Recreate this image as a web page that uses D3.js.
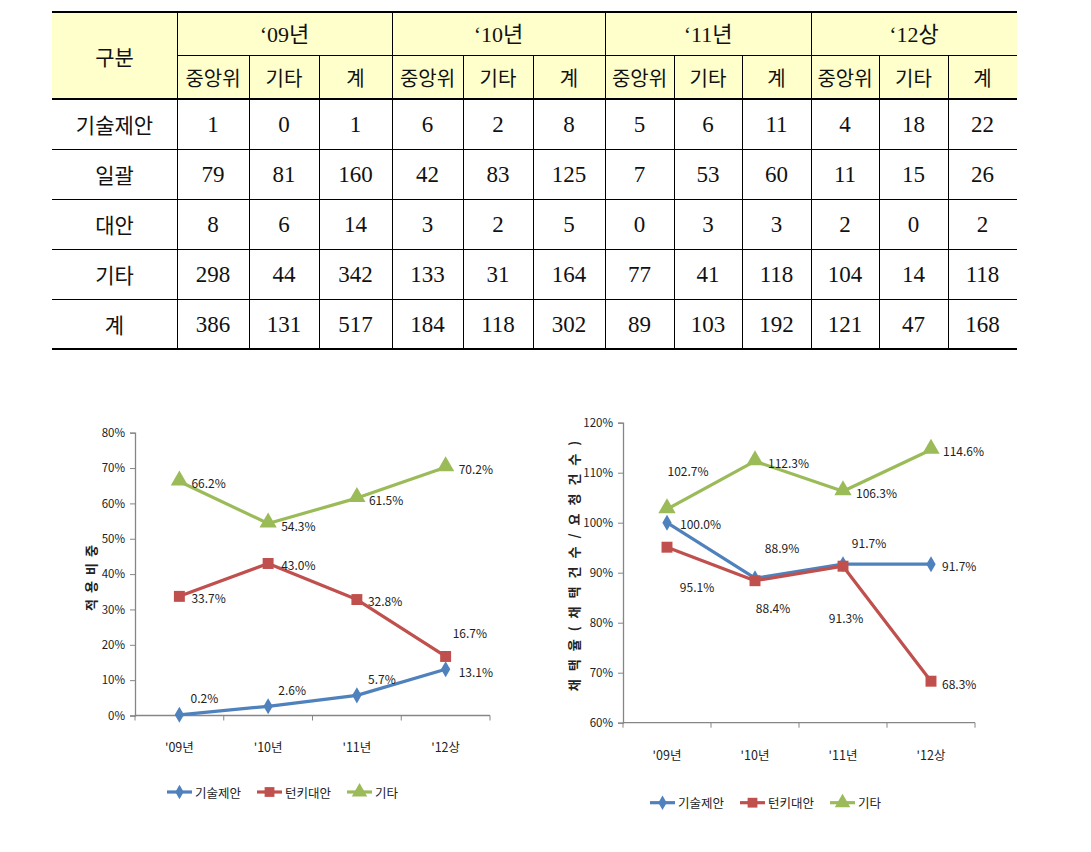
<!DOCTYPE html>
<html><head><meta charset="utf-8">
<script src="https://cdn.jsdelivr.net/npm/d3@7"></script>
<style>
body{margin:0;background:#fff;}
svg{display:block;}
</style></head>
<body>
<svg id="c" width="1091" height="852"></svg>
<script>
// ---------- DATA ----------
const tableYears = ["‘09년", "‘10년", "‘11년", "‘12상"];
const tableSubCols = ["중앙위", "기타", "계"];
const tableCorner = "구분";
const tableRowLabels = ["기술제안", "일괄", "대안", "기타", "계"];
const rowTech = [1, 0, 1, 6, 2, 8, 5, 6, 11, 4, 18, 22];
const rowBulk = [79, 81, 160, 42, 83, 125, 7, 53, 60, 11, 15, 26];
const rowAlt = [8, 6, 14, 3, 2, 5, 0, 3, 3, 2, 0, 2];
const rowEtc = [298, 44, 342, 133, 31, 164, 77, 41, 118, 104, 14, 118];
const rowSum = [386, 131, 517, 184, 118, 302, 89, 103, 192, 121, 47, 168];

const chartCategories = ["'09년", "'10년", "'11년", "'12상"];
const seriesNames = ["기술제안", "턴키대안", "기타"];

const shareTech = [0.2, 2.6, 5.7, 13.1];
const shareTurnkey = [33.7, 43.0, 32.8, 16.7];
const shareEtc = [66.2, 54.3, 61.5, 70.2];
const shareTicks = [0, 10, 20, 30, 40, 50, 60, 70, 80];
const shareTitle = "적용비중";

const rateTech = [100.0, 88.9, 91.7, 91.7];
const rateTurnkey = [95.1, 88.4, 91.3, 68.3];
const rateEtc = [102.7, 112.3, 106.3, 114.6];
const rateTicks = [60, 70, 80, 90, 100, 110, 120];
const rateTitle = "채택율(채택건수/요청건수)";

// ---------- LAYOUT / STYLE ----------
const colors = ["#4F81BD", "#C0504D", "#9BBB59"];
const symbols = [d3.symbolDiamond, d3.symbolSquare, d3.symbolTriangle];
const symSizes = [75, 120, 130];
const kFont = "'Noto Sans CJK KR', 'Noto Sans', sans-serif";
const tFont = "'Liberation Serif', 'Noto Sans CJK KR', serif";
const colWidths = [72, 70, 73, 71, 70, 72, 69, 68, 69, 68, 69, 69];

// label offsets: [dx, dy, anchor]
const shareLabelPos = [
  [[25,-17,"middle"],[24,-17,"middle"],[25,-17,"middle"],[13,2,"start"]],
  [[12,1,"start"],[13,1,"start"],[11,1,"start"],[7,-24,"start"]],
  [[12,1,"start"],[13,2,"start"],[12,1,"start"],[13,1,"start"]]
];
const rateLabelPos = [
  [[13,1,"start"],[27,-31,"middle"],[26,-22,"middle"],[11,1,"start"]],
  [[30,39,"middle"],[18,27,"middle"],[3,51,"middle"],[11,2,"start"]],
  [[21,-39,"middle"],[13,1,"start"],[13,1,"start"],[12,1,"start"]]
];

const svg = d3.select("#c");

// ---------- TABLE ----------
(function drawTable(){
  const rows = [rowTech, rowBulk, rowAlt, rowEtc, rowSum];
  const left = 52, firstW = 125, right = 1017;
  const top = 12, h1 = 43, h2 = 44, rowH = 50;
  const nCols = tableYears.length * tableSubCols.length;
  const edges = [left + firstW];
  colWidths.forEach((w, i) => edges.push(edges[i] + w));
  const xc = i => edges[i];
  const wc = i => edges[i + 1] - edges[i];
  const yr = d3.scaleBand().domain(d3.range(rows.length)).range([top + h1 + h2, top + h1 + h2 + rowH * rows.length]);
  const bottom = top + h1 + h2 + rowH * rows.length;
  const g = svg.append("g");

  g.append("rect").attr("x", left).attr("y", top).attr("width", right - left).attr("height", h1 + h2).attr("fill", "#FFFFCC");

  const line = (x1,y1,x2,y2,w) => g.append("line").attr("x1",x1).attr("y1",y1).attr("x2",x2).attr("y2",y2)
      .attr("stroke","#000").attr("stroke-width",w||1).attr("shape-rendering","crispEdges");
  line(left, top, right, top, 2);
  line(left + firstW, top + h1, right, top + h1);
  line(left, top + h1 + h2, right, top + h1 + h2, 1.5);
  yr.domain().forEach(i => { if (i > 0) line(left, yr(i), right, yr(i)); });
  line(left, bottom, right, bottom, 2);
  line(left + firstW, top, left + firstW, bottom);
  d3.range(nCols).forEach(i => {
    if (i === 0) return;
    const x = xc(i);
    const yStart = (i % 3 === 0) ? top : top + h1;
    line(x, yStart, x, bottom);
  });

  const txt = (x, y, s, size, fam) => g.append("text").attr("x", x).attr("y", y).attr("text-anchor","middle")
      .attr("dominant-baseline","central").attr("font-family", fam).attr("font-size", size).attr("fill","#111").text(s);

  txt(left + firstW/2, top + (h1+h2)/2, tableCorner, 21, kFont);
  tableYears.forEach((y, i) => txt((xc(i*3) + xc(i*3+3))/2, top + h1/2 + 1, y, 22, tFont));
  d3.range(nCols).forEach(i => txt(xc(i) + wc(i)/2, top + h1 + h2/2, tableSubCols[i % 3], 20, kFont));
  rows.forEach((r, ri) => {
    txt(left + firstW/2, yr(ri) + rowH/2, tableRowLabels[ri], 21, kFont);
    r.forEach((v, ci) => txt(xc(ci) + wc(ci)/2, yr(ri) + rowH/2, v, 23, tFont));
  });
})();

// ---------- CHARTS ----------
function drawChart(opt){
  const g = svg.append("g");
  const x = d3.scaleBand().domain(chartCategories).range([opt.x0, opt.x1]);
  const y = d3.scaleLinear().domain(opt.domain).range([opt.yBottom, opt.yTop]);
  const axisColor = "#868686";

  // y axis
  const ya = g.append("g").attr("transform", `translate(${opt.x0},0)`)
    .call(d3.axisLeft(y).tickValues(opt.ticks).tickSize(5).tickPadding(5).tickFormat(d => d + "%"));
  ya.select(".domain").attr("stroke", axisColor).attr("stroke-width", 1.3);
  ya.selectAll(".tick line").attr("stroke", axisColor);
  ya.selectAll(".tick text").attr("font-family", kFont).attr("font-size", 11.5).attr("fill", "#222");

  // x axis
  const xa = g.append("g").attr("transform", `translate(0,${opt.yBottom})`);
  xa.append("line").attr("x1", opt.x0).attr("x2", opt.x1).attr("stroke", axisColor).attr("stroke-width", 1.3);
  const edges = chartCategories.map(c => x(c)).concat([opt.x1]);
  xa.selectAll("line.tk").data(edges).join("line").attr("class","tk")
    .attr("x1", d => d).attr("x2", d => d).attr("y1", 0).attr("y2", 5).attr("stroke", axisColor);
  xa.selectAll("text").data(chartCategories).join("text")
    .attr("x", d => x(d) + x.bandwidth()/2).attr("y", opt.xLabelDy)
    .attr("text-anchor","middle").attr("dominant-baseline","central")
    .attr("font-family", kFont).attr("font-size", 12.5).attr("fill","#222").text(d => d);

  // y title
  g.append("text").attr("transform", `translate(${opt.titleX},${opt.titleY}) rotate(-90)`)
    .attr("text-anchor","middle").attr("dominant-baseline","central")
    .attr("font-family", kFont).attr("font-size", 13).attr("font-weight","bold")
    .attr("letter-spacing", opt.titleSpacing).attr("fill","#222").text(opt.title);

  const line = d3.line().x((d,i) => x(chartCategories[i]) + x.bandwidth()/2).y(d => y(d));
  opt.series.forEach((s, si) => {
    g.append("path").datum(s).attr("d", line).attr("fill","none")
      .attr("stroke", colors[si]).attr("stroke-width", 3.2).attr("stroke-linejoin","round");
  });
  opt.series.forEach((s, si) => {
    g.selectAll(null).data(s).join("path")
      .attr("transform", (d,i) => `translate(${x(chartCategories[i]) + x.bandwidth()/2},${y(d) + (si===2 ? -1 : 0)})`)
      .attr("d", d3.symbol().type(symbols[si]).size(symSizes[si])).attr("fill", colors[si]);
  });
  opt.series.forEach((s, si) => {
    g.selectAll(null).data(s).join("text")
      .attr("x", (d,i) => x(chartCategories[i]) + x.bandwidth()/2 + opt.labelPos[si][i][0])
      .attr("y", (d,i) => y(d) + opt.labelPos[si][i][1])
      .attr("text-anchor", (d,i) => opt.labelPos[si][i][2])
      .attr("dominant-baseline","central")
      .attr("font-family", kFont).attr("font-size", 12).attr("fill","#222")
      .text(d => d.toFixed(1) + "%");
  });

  // legend
  const lg = g.append("g").attr("transform", `translate(${opt.legendX},${opt.legendY})`);
  let cx = 0;
  seriesNames.forEach((n, i) => {
    lg.append("line").attr("x1", cx).attr("x2", cx + 25).attr("y1", 0).attr("y2", 0)
      .attr("stroke", colors[i]).attr("stroke-width", 3.2);
    lg.append("path").attr("transform", `translate(${cx + 12.5},0)`)
      .attr("d", d3.symbol().type(symbols[i]).size(symSizes[i] * 0.8)).attr("fill", colors[i]);
    const t = lg.append("text").attr("x", cx + 28).attr("y", 0).attr("dominant-baseline","central")
      .attr("font-family", kFont).attr("font-size", 12.5).attr("fill","#222").text(n);
    cx += 28 + t.node().getComputedTextLength() + 16;
  });
}

drawChart({
  x0: 135, x1: 490, yTop: 432.7, yBottom: 715.5, domain: [0, 80], ticks: shareTicks,
  series: [shareTech, shareTurnkey, shareEtc], labelPos: shareLabelPos,
  xLabelDy: 31, title: shareTitle, titleX: 90, titleY: 575, titleSpacing: 6,
  legendX: 167, legendY: 792
});
drawChart({
  x0: 623, x1: 975, yTop: 422.7, yBottom: 722.7, domain: [60, 120], ticks: rateTicks,
  series: [rateTech, rateTurnkey, rateEtc], labelPos: rateLabelPos,
  xLabelDy: 32, title: rateTitle, titleX: 573, titleY: 562, titleSpacing: 8,
  legendX: 650, legendY: 802.7
});
</script>
</body></html>
